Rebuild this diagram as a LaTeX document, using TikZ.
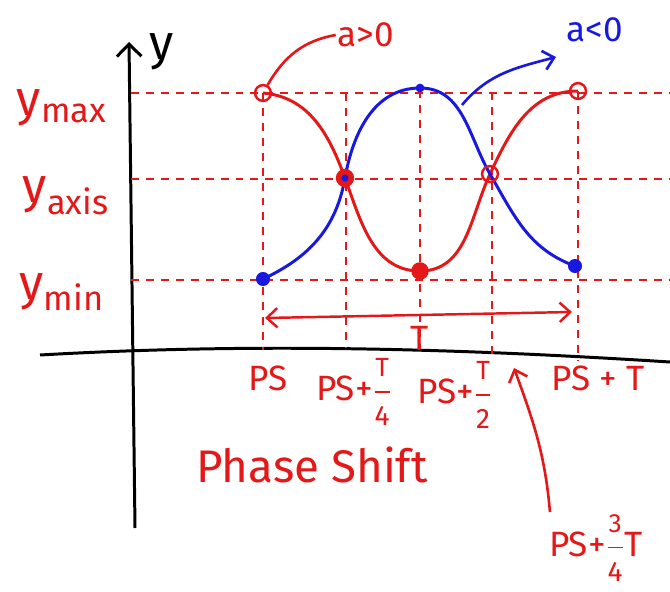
\documentclass[tikz,border=0pt]{standalone}
\usepackage{amsmath}
\usepackage{fontspec}
\setmainfont{Fira Sans}
\usetikzlibrary{arrows.meta,positioning}
\definecolor{penred}{RGB}{228,24,24}
\definecolor{penblue}{RGB}{24,24,222}
\newcommand{\frc}[2]{$\dfrac{\text{\fontsize{15}{16}\selectfont #1}}{\text{\fontsize{16}{17}\selectfont #2}}$}

\begin{document}
\begin{tikzpicture}[x=0.02cm, y=0.02cm,
  grid/.style={penred, line width=1.3pt, dash pattern=on 4.5pt off 4pt},
  axisline/.style={black, line width=1.7pt},
  wave/.style={line width=1.7pt},
  ring/.style={circle, draw=penred, line width=1.4pt, inner sep=0pt, minimum size=9pt},
  dotr/.style={circle, fill=penred, inner sep=0pt, minimum size=10pt},
  dotb/.style={circle, fill=penblue, inner sep=0pt, minimum size=8pt},
  lbl/.style={text=penred, font=\fontsize{20}{22}\selectfont, inner sep=1pt},
  pen/.style={-{Straight Barb[length=6pt,width=11pt]}, line width=1.5pt}
]
  \useasboundingbox (0,0) rectangle (670,-592);

  %% axes
  \coordinate (yb) at (135,-528);
  \coordinate (yt) at (129,-42);
  \coordinate (xl) at (40,-355);
  \coordinate (xr) at (670,-362);
  \draw[axisline, -{Straight Barb[length=7pt,width=14pt]}] (yb) -- (yt);
  \draw[axisline] (xl) .. controls (250,-343) and (450,-348) .. (xr);

  %% dashed guides
  \foreach \lv/\yy in {max/93, axis/179, min/280}
    \draw[grid] (131,-\yy) coordinate (h\lv) -- (670,-\yy);
  \foreach \n/\xx/\ya/\yz in {0/263/93/350, 1/346/93/348, 2/420/90/349, 3/492/92/355, 4/578/91/360}
    \draw[grid] (\xx,-\ya) coordinate (v\n) -- (\xx,-\yz);

  %% marked points
  \coordinate (rA) at (263,-93);
  \coordinate (rB) at (345,-178);
  \coordinate (rC) at (420,-271);
  \coordinate (rD) at (490,-174);
  \coordinate (rE) at (578,-91);
  \coordinate (bA) at (263,-279);
  \coordinate (bC) at (420,-88);
  \coordinate (bE) at (575,-266);

  %% curves
  \draw[wave, penred] (rA) to[out=-5,in=110] (rB) to[out=-70,in=180] (rC)
    to[out=0,in=-115] (rD) to[out=65,in=180] (rE);
  \draw[wave, penblue] (bA) to[out=25,in=-100] (rB) to[out=80,in=180] (bC)
    to[out=0,in=120] (rD) to[out=-60,in=160] (bE);

  \node[ring] (mA) at (rA) {};
  \node[ring, fill=penred] (mB) at (rB) {};
  \node[dotb, minimum size=4pt] at (rB) {};
  \node[dotr] (mC) at (rC) {};
  \node[ring] (mD) at (rD) {};
  \node[ring] (mE) at (rE) {};
  \node[dotb] (nA) at (bA) {};
  \node[dotb, minimum size=5pt] (nC) at (bC) {};
  \node[dotb] (nE) at (bE) {};

  %% period
  \coordinate (tL) at (265,-318);
  \coordinate (tR) at (572,-312);
  \draw[penred, line width=1.4pt, {Straight Barb[length=6pt,width=11pt]}-{Straight Barb[length=6pt,width=11pt]}] (tL) -- (tR);
  \node[lbl] (tlab) at (420,-338) {T};

  %% labels
  \node[font=\fontsize{28}{30}\selectfont, inner sep=1pt] (ylab) at (162,-52) {y};
  \node[lbl, font=\fontsize{28}{30}\selectfont] (lmax) at (62,-108) {y\textsubscript{max}};
  \node[lbl, font=\fontsize{28}{30}\selectfont] (laxis) at (66,-196) {y\textsubscript{axis}};
  \node[lbl, font=\fontsize{28}{30}\selectfont] (lmin) at (62,-292) {y\textsubscript{min}};

  \node[lbl] (apos) at (366,-35) {a>0};
  \node[lbl, text=penblue] (aneg) at (595,-30) {a<0};
  \draw[penred, line width=1.5pt] (apos.west) to[out=190,in=60] (mA);
  \coordinate (bpt) at (462,-105);
  \coordinate (bend) at (556,-57);
  \draw[pen, penblue] (bpt) to[out=50,in=195] (bend);

  \node[lbl] (ps0) at (268,-378) {PS};
  \node[lbl] (ps1) at (354,-392) {PS+\frc{T}{4}};
  \node[lbl] (ps2) at (455,-395) {PS+\frc{T}{2}};
  \node[lbl] (ps4) at (598,-378) {PS + T};
  \node[lbl, font=\fontsize{26}{28}\selectfont] (phase) at (312,-465) {Phase Shift};
  \node[lbl] (ps3) at (596,-548) {PS+\frc{3}{4}T};
  \coordinate (q3) at (550,-512);
  \coordinate (x3) at (514,-368);
  \draw[pen, penred] (q3) to[out=95,in=-70] (x3);
\end{tikzpicture}
\end{document}
